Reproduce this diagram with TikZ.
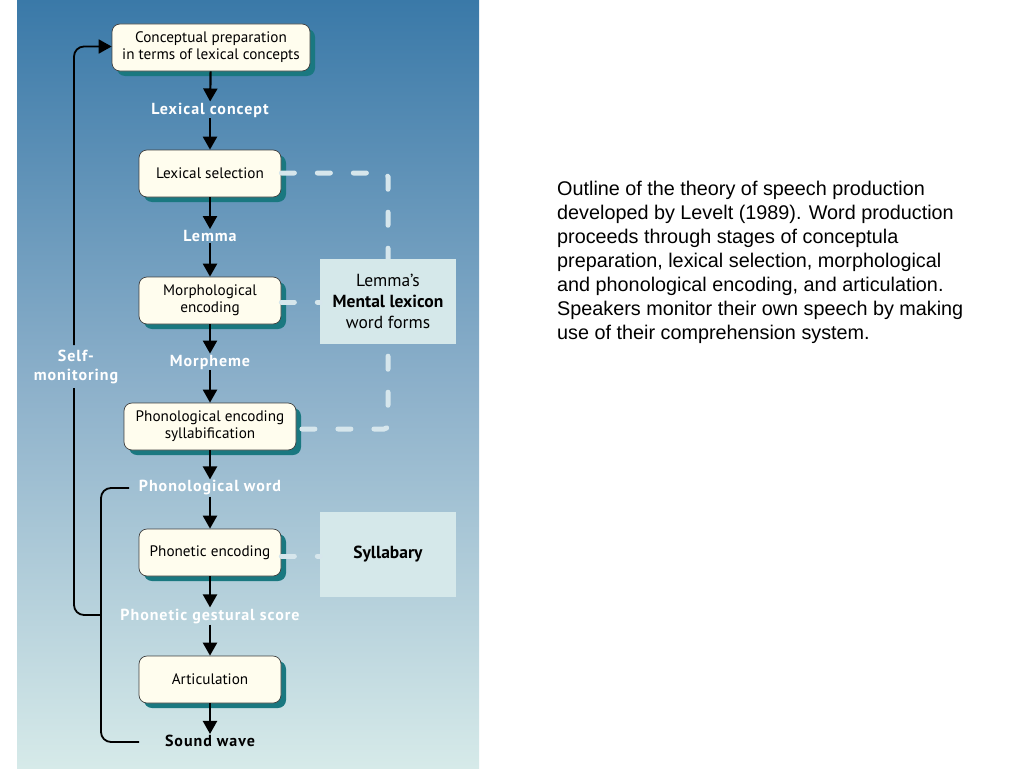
\documentclass[tikz,border=0pt]{standalone}
\usepackage{fontspec}
\setmainfont{PT Sans}
\newfontfamily\capfont{Liberation Sans}
\newfontfamily\lblfont[LetterSpace=6]{PT Sans}
\usetikzlibrary{arrows.meta,shadows}
\definecolor{bgtop}{RGB}{58,121,168}
\definecolor{bgmid}{RGB}{140,176,202}
\definecolor{bgbot}{RGB}{214,234,233}
\definecolor{cream}{RGB}{255,253,238}
\definecolor{shadowteal}{RGB}{26,120,128}
\definecolor{storefill}{RGB}{213,232,234}
\definecolor{dashcol}{RGB}{214,230,236}
\tikzset{
  x=1pt, y=-1pt,
  stage/.style={draw=black!75, line width=0.7pt, fill=cream, rounded corners=8pt,
    minimum height=47pt, align=center, font=\fontsize{15.2}{17}\selectfont, inner sep=0pt,
    drop shadow={shadow xshift=5pt, shadow yshift=-5pt, fill=shadowteal, opacity=1}},
  lbl/.style={font=\lblfont\bfseries\fontsize{16}{18}\selectfont, text=white, inner sep=1pt},
  flow/.style={line width=2.2pt, -{Triangle[width=14pt,length=13pt]}},
  fb/.style={line width=1.8pt, rounded corners=10pt},
  store/.style={fill=storefill, minimum width=136pt, minimum height=85pt, align=center,
    font=\fontsize{17.5}{21}\selectfont, inner sep=0pt},
  dashl/.style={draw=dashcol, line width=5pt, line cap=round, dash pattern=on 13pt off 23pt, rounded corners=4pt}
}
\begin{document}
\begin{tikzpicture}
\useasboundingbox (0,0) rectangle (1024,768);
\fill[white] (0,0) rectangle (1024,768);
\shade[top color=bgtop, bottom color=bgbot, middle color=bgmid] (17,0) rectangle (479,768);

\coordinate (c1) at (388,173);
\coordinate (c2) at (388,429);
\node[stage, minimum width=142pt] (ls) at (210,173.5) {Lexical selection};
\node[stage, minimum width=172pt] (pe) at (210,426.5) {Phonological encoding\\syllabification};
\draw[dashl] (ls.east |- c1) -- (c1) -- (c2) -- (pe.east |- c2);
\node[store] (lex) at (388,301.5) {Lemma's\\\textbf{Mental lexicon}\\word forms};
\node[store] (syl) at (388,554.5) {\textbf{Syllabary}};

\node[stage, minimum width=198pt] (cp) at (211,47.5) {Conceptual preparation\\in terms of lexical concepts};
\node[stage, minimum width=142pt] (me) at (210,300.5) {Morphological\\encoding};
\node[stage, minimum width=142pt] (ph) at (210,552.5) {Phonetic encoding};
\node[stage, minimum width=142pt] (ar) at (210,679.5) {Articulation};

\draw[dashl] (me.east |- 0,302) -- (lex.west |- 0,302);
\draw[dashl] (ph.east |- 0,556) -- (syl.west |- 0,556);

\node[lbl] (l1) at (210,110) {Lexical concept};
\node[lbl] (l2) at (210,236) {Lemma};
\node[lbl] (l3) at (210,362) {Morpheme};
\node[lbl] (l4) at (210,488) {Phonological word};
\node[lbl] (l5) at (210,616) {Phonetic gestural score};
\node[lbl, text=black] (l6) at (210,741) {Sound wave};

\draw[flow] (cp) -- (l1);
\draw[flow] (l1) -- (ls);
\draw[flow] (ls) -- (l2);
\draw[flow] (l2) -- (me);
\draw[flow] (me) -- (l3);
\draw[flow] (l3) -- (pe);
\draw[flow] (pe) -- (l4);
\draw[flow] (l4) -- (ph);
\draw[flow] (ph) -- (l5);
\draw[flow] (l5) -- (ar);
\draw[flow] (ar) -- (l6);

\node[lbl, align=center, font=\lblfont\bfseries\fontsize{16}{18.5}\selectfont] (sm) at (76,367) {Self-\\monitoring};
\coordinate (bt) at (129,488);
\coordinate (bb) at (139,742);
\coordinate (bj) at (101,615);
\draw[fb] (bt) -- (101,488) -- (101,742) -- (bb);
\draw[fb] (bj) -- (74,615) -- (74,388);
\draw[fb, -{Triangle[width=14pt,length=13pt]}] (74,345) -- (74,46.5) -- (cp.west |- 0,46.5);

\node[anchor=north west, align=left, inner sep=0pt, font=\capfont\fontsize{19.8}{24}\selectfont] (cap) at (557,180.5)
{Outline of the theory of speech production\\developed by Levelt (1989). Word production\\proceeds through stages of conceptula\\preparation, lexical selection, morphological\\and phonological encoding, and articulation.\\Speakers monitor their own speech by making\\use of their comprehension system.};
\end{tikzpicture}
\end{document}
